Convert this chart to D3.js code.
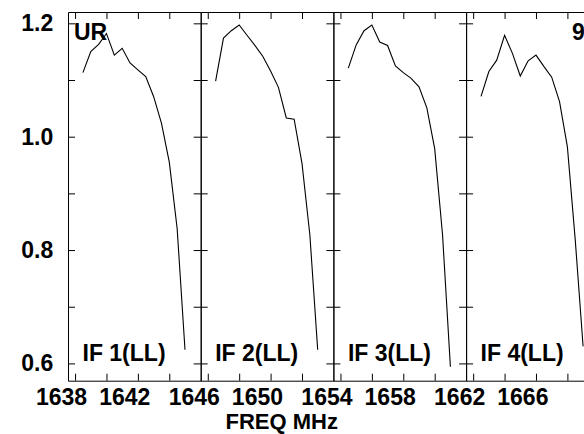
<!DOCTYPE html>
<html>
<head>
<meta charset="utf-8">
<script src="https://cdn.jsdelivr.net/npm/d3@7"></script>
<style>
  html, body { margin: 0; padding: 0; background: #fff; }
  svg { display: block; }
  text { font-family: "Liberation Sans", Arial, Helvetica, sans-serif; font-weight: bold; fill: #000; }
</style>
</head>
<body>
<svg id="chart" width="584" height="434"></svg>
<script>
// ---- data ----
const ifNames = ["IF 1(LL)", "IF 2(LL)", "IF 3(LL)", "IF 4(LL)"];
const channels = [2, 3, 4, 5, 6, 7, 8, 9, 10, 11, 12, 13, 14, 15];
const if1 = [1.113, 1.150, 1.163, 1.182, 1.144, 1.156, 1.130, 1.118, 1.106, 1.071, 1.024, 0.955, 0.838, 0.624];
const if2 = [1.098, 1.174, 1.187, 1.197, 1.179, 1.161, 1.142, 1.116, 1.087, 1.033, 1.031, 0.953, 0.827, 0.624];
const if3 = [1.121, 1.162, 1.187, 1.197, 1.167, 1.161, 1.125, 1.113, 1.103, 1.088, 1.051, 0.979, 0.827, 0.594];
const if4 = [1.071, 1.115, 1.135, 1.179, 1.147, 1.107, 1.134, 1.144, 1.124, 1.105, 1.062, 0.982, 0.818, 0.630];
const seriesValues = [if1, if2, if3, if4];
const ifStartFreq = [1638.44, 1646.44, 1654.44, 1662.44];   // MHz at left edge of each panel
const freqTickLabels = [[1638, 1642], [1646, 1650], [1654, 1658], [1662, 1666]];
const channelTicks = [1, 5, 9, 13];
const yTickLabels = [0.6, 0.8, 1.0, 1.2];
const yTicksAll = [0.6, 0.7, 0.8, 0.9, 1.0, 1.1, 1.2];
const xTitle = "FREQ MHz";
const polLabel = "UR";
const sourceLabel = "9";

// ---- layout ----
const svg = d3.select("#chart");
const left0 = 68, panelW = 132.7, plotTop = 12, plotBottom = 380.7;
const fontSize = 23;
const y = d3.scaleLinear().domain([0.5695, 1.22]).range([plotBottom, plotTop]);

seriesValues.forEach((vals, i) => {
  const L = left0 + i * panelW, R = L + panelW;
  const xc = d3.scaleLinear().domain([0.1, 17.0]).range([L, R]);
  const xf = d3.scaleLinear().domain([ifStartFreq[i], ifStartFreq[i] + panelW / 15.8]).range([L, R]);
  const g = svg.append("g");

  // bottom axis (ticks upward)
  g.append("g").attr("transform", `translate(0,${plotBottom})`)
    .call(d3.axisBottom(xc).tickValues(channelTicks).tickSizeInner(-7).tickSizeOuter(0).tickFormat(""));
  // top axis (ticks downward)
  g.append("g").attr("transform", `translate(0,${plotTop})`)
    .call(d3.axisTop(xc).tickValues(channelTicks).tickSizeInner(-7).tickSizeOuter(0).tickFormat(""));
  // left side of panel (ticks inward)
  g.append("g").attr("transform", `translate(${L},0)`)
    .call(d3.axisRight(y).tickValues(yTicksAll).tickSizeInner(7).tickSizeOuter(0).tickFormat(""));
  // right side of panel (ticks inward)
  g.append("g").attr("transform", `translate(${R},0)`)
    .call(d3.axisLeft(y).tickValues(yTicksAll).tickSizeInner(7).tickSizeOuter(0).tickFormat(""));

  // frequency labels
  const fl = g.append("g").attr("transform", `translate(0,${plotBottom})`)
    .call(d3.axisBottom(xf).tickValues(freqTickLabels[i]).tickSize(0).tickPadding(7.5).tickFormat(d3.format("d")));
  fl.select(".domain").remove();
  fl.selectAll("text").style("font-size", fontSize + "px");

  // spectrum line
  const line = d3.line().x((d, k) => xc(channels[k])).y(d => y(d));
  g.append("path").datum(vals).attr("d", line)
    .attr("fill", "none").attr("stroke", "#000").attr("stroke-width", 1.1);

  // IF label
  g.append("text").attr("x", L + 14.5).attr("y", 361)
    .style("font-size", fontSize + "px").text(ifNames[i]);
});

svg.selectAll(".domain, .tick line").attr("stroke", "#000");

// y tick labels
const yl = svg.append("g").attr("transform", `translate(${left0},0)`)
  .call(d3.axisLeft(y).tickValues(yTickLabels).tickSize(0).tickPadding(14.7).tickFormat(d3.format(".1f")));
yl.select(".domain").remove();
yl.selectAll("text").style("font-size", fontSize + "px");
svg.selectAll("g").attr("font-family", null).attr("font-size", null);

// titles
svg.append("text").attr("x", 281.7).attr("y", 429.3).attr("text-anchor", "middle")
  .style("font-size", "22px").text(xTitle);
svg.append("text").attr("x", 74).attr("y", 40).style("font-size", fontSize + "px").text(polLabel);
svg.append("text").attr("x", 572).attr("y", 40).style("font-size", fontSize + "px").text(sourceLabel);
</script>
</body>
</html>
